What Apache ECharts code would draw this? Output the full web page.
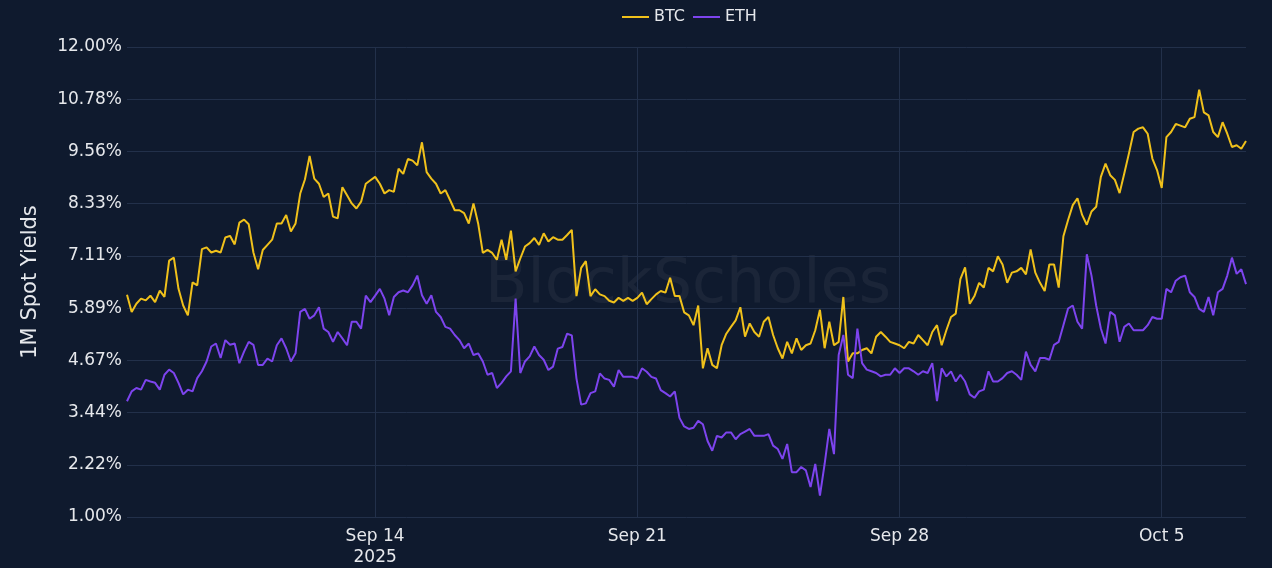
<!DOCTYPE html>
<html>
<head>
<meta charset="utf-8">
<title>1M Spot Yields</title>
<script src="https://cdn.jsdelivr.net/npm/echarts@6/dist/echarts.min.js"></script>
<style>
	html, body { margin: 0; padding: 0; background: #0f1a2e; }
	#chart { width: 1272px; height: 568px; }
</style>
</head>
<body>
<div id="chart"></div>
<script>
	// 3-hourly readings, first one at 2025-09-07 09:00 UTC
	var startUtc = Date.UTC(2025, 8, 7, 9);
	var stepHours = 3;

	var btcYield = [
		6.2, 5.8, 5.99, 6.11, 6.07, 6.18, 6.03, 6.3, 6.15, 7.0, 7.07, 6.34, 5.95, 5.72, 6.49, 6.42, 7.27, 7.31, 7.19, 7.23, 7.19, 7.54, 7.58, 7.38, 7.89, 7.96, 7.85, 7.19, 6.8,
		7.25, 7.37, 7.49, 7.87, 7.87, 8.07, 7.68, 7.87, 8.57, 8.9, 9.45, 8.92, 8.8, 8.49, 8.57, 8.03, 7.99, 8.72, 8.53, 8.34, 8.22, 8.38, 8.8, 8.88, 8.96, 8.8, 8.57, 8.65, 8.61, 9.15, 9.03,
		9.38, 9.34, 9.23, 9.77, 9.07, 8.92, 8.8, 8.57, 8.65, 8.42, 8.18, 8.18, 8.11, 7.87, 8.34, 7.87, 7.18, 7.25, 7.18, 7.02, 7.49, 7.02, 7.7, 6.75, 7.05, 7.33, 7.41, 7.53, 7.37, 7.64,
		7.45, 7.55, 7.49, 7.49, 7.6, 7.72, 6.17, 6.83, 6.99, 6.17, 6.33, 6.21, 6.17, 6.06, 6.02, 6.13, 6.06, 6.13, 6.06, 6.13, 6.25, 5.98, 6.1, 6.21, 6.29, 6.25, 6.6, 6.17, 6.17, 5.79,
		5.72, 5.49, 5.95, 4.48, 4.95, 4.56, 4.48, 5.02, 5.29, 5.45, 5.6, 5.91, 5.22, 5.53, 5.33, 5.22, 5.57, 5.68, 5.26, 4.95, 4.71, 5.1, 4.83, 5.18, 4.91, 5.02, 5.06, 5.37, 5.85, 4.95, 5.57,
		5.02, 5.1, 6.15, 4.64, 4.83, 4.83, 4.91, 4.95, 4.83, 5.22, 5.33, 5.22, 5.1, 5.06, 5.02, 4.95, 5.1, 5.06, 5.26, 5.14, 5.02, 5.33, 5.49, 5.02, 5.37, 5.68, 5.76, 6.57, 6.84, 5.99,
		6.17, 6.48, 6.37, 6.83, 6.75, 7.1, 6.91, 6.48, 6.72, 6.75, 6.83, 6.68, 7.26, 6.72, 6.48, 6.29, 6.91, 6.91, 6.37, 7.57, 7.95, 8.3, 8.46, 8.07, 7.84, 8.15, 8.26, 8.96, 9.27, 9.0,
		8.89, 8.58, 9.04, 9.51, 10.01, 10.09, 10.12, 9.97, 9.39, 9.12, 8.7, 9.89, 10.01, 10.2, 10.16, 10.12, 10.32, 10.36, 11.0, 10.47, 10.4, 10.01, 9.89, 10.24, 9.97, 9.66, 9.7, 9.62, 9.8
	];

	var ethYield = [
		3.71, 3.94, 4.02, 3.98, 4.21, 4.17, 4.14, 3.98, 4.33, 4.45, 4.37, 4.14, 3.87, 3.98, 3.94, 4.25, 4.41, 4.64, 4.99, 5.06, 4.72, 5.14, 5.03, 5.06, 4.6, 4.87, 5.1, 5.03, 4.56,
		4.56, 4.71, 4.64, 5.02, 5.18, 4.95, 4.64, 4.83, 5.8, 5.87, 5.64, 5.72, 5.91, 5.41, 5.33, 5.1, 5.33, 5.18, 5.02, 5.57, 5.57, 5.41, 6.18, 6.03, 6.18, 6.34, 6.11, 5.72, 6.15, 6.26, 6.3,
		6.26, 6.42, 6.65, 6.19, 5.99, 6.19, 5.8, 5.68, 5.45, 5.41, 5.26, 5.14, 4.95, 5.06, 4.79, 4.83, 4.64, 4.33, 4.37, 4.02, 4.14, 4.29, 4.41, 6.11, 4.37, 4.64, 4.76, 4.99, 4.79, 4.68,
		4.44, 4.52, 4.94, 4.98, 5.29, 5.25, 4.24, 3.63, 3.66, 3.9, 3.94, 4.36, 4.24, 4.21, 4.05, 4.44, 4.28, 4.28, 4.28, 4.24, 4.48, 4.4, 4.28, 4.24, 3.97, 3.9, 3.82, 3.94, 3.32, 3.12,
		3.06, 3.09, 3.25, 3.17, 2.78, 2.55, 2.9, 2.86, 2.98, 2.98, 2.82, 2.94, 3.0, 3.06, 2.9, 2.9, 2.9, 2.94, 2.67, 2.59, 2.36, 2.71, 2.05, 2.05, 2.17, 2.09, 1.7, 2.24, 1.5, 2.24, 3.06,
		2.47, 4.79, 5.26, 4.33, 4.25, 5.41, 4.6, 4.45, 4.41, 4.37, 4.29, 4.33, 4.33, 4.48, 4.37, 4.48, 4.48, 4.41, 4.33, 4.41, 4.37, 4.6, 3.71, 4.48, 4.29, 4.41, 4.17, 4.33, 4.17, 3.87,
		3.79, 3.94, 3.98, 4.41, 4.17, 4.17, 4.25, 4.37, 4.41, 4.33, 4.21, 4.87, 4.56, 4.41, 4.72, 4.72, 4.68, 5.03, 5.1, 5.49, 5.88, 5.95, 5.57, 5.41, 7.15, 6.65, 5.95, 5.41, 5.06, 5.8,
		5.72, 5.1, 5.45, 5.53, 5.37, 5.37, 5.37, 5.49, 5.68, 5.64, 5.64, 6.34, 6.26, 6.53, 6.61, 6.65, 6.26, 6.15, 5.87, 5.8, 6.15, 5.72, 6.26, 6.34, 6.65, 7.07, 6.69, 6.8, 6.45
	];

	var xTickDates = ['2025-09-14 00:00', '2025-09-21 00:00', '2025-09-28 00:00', '2025-10-05 00:00'];
	var xTickLabels = ['Sep 14\n2025', 'Sep 21', 'Sep 28', 'Oct 5'];

	var yMin = 1;
	var yMax = 12;
	var yStep = 11 / 9;

	function pad(n) {
		return n < 10 ? '0' + n : '' + n;
	}

	var times = btcYield.map(function(v, i) {
		var d = new Date(startUtc + i * stepHours * 3600 * 1000);
		return d.getUTCFullYear() + '-' + pad(d.getUTCMonth() + 1) + '-' + pad(d.getUTCDate()) + ' ' + pad(d.getUTCHours()) + ':00';
	});

	function isWeekTick(index, value) {
		return xTickDates.indexOf(value) >= 0;
	}

	var fontFamily = '"DejaVu Sans", Verdana, sans-serif';
	var textColor = '#e6e8ec';
	var gridColor = '#22304a';

	var option = {
		backgroundColor: '#0f1a2e',
		animation: false,
		color: ['#f0c11b', '#7d44ee'],
		textStyle: {
			fontFamily: fontFamily
		},
		legend: {
			data: ['BTC', 'ETH'],
			icon: 'rect',
			left: 617,
			top: 4,
			itemWidth: 27,
			itemHeight: 2,
			itemGap: 8,
			textStyle: {
				color: textColor,
				fontSize: 16,
				fontFamily: fontFamily
			}
		},
		graphic: [{
			type: 'text',
			z: 0,
			silent: true,
			x: 688,
			y: 286,
			style: {
				text: 'BlockScholes',
				fill: 'rgba(255,255,255,0.05)',
				font: '62px "DejaVu Sans", sans-serif',
				textAlign: 'center',
				textVerticalAlign: 'middle'
			}
		}],
		grid: {
			left: 127,
			right: 26,
			top: 47,
			bottom: 46,
			containLabel: false
		},
		xAxis: {
			type: 'category',
			boundaryGap: false,
			data: times,
			axisLine: {
				show: false
			},
			axisTick: {
				show: false
			},
			axisLabel: {
				interval: isWeekTick,
				color: textColor,
				fontSize: 17,
				lineHeight: 21,
				margin: 9,
				fontFamily: fontFamily,
				formatter: function(val) {
					var k = xTickDates.indexOf(val);
					return k >= 0 ? xTickLabels[k] : '';
				}
			},
			splitLine: {
				show: true,
				interval: isWeekTick,
				lineStyle: {
					color: gridColor,
					width: 1
				}
			}
		},
		yAxis: {
			type: 'value',
			min: yMin,
			max: yMax,
			interval: yStep,
			name: '1M Spot Yields',
			nameLocation: 'middle',
			nameGap: 86,
			nameTextStyle: {
				color: textColor,
				fontSize: 21,
				fontFamily: fontFamily
			},
			axisLine: {
				show: false
			},
			axisTick: {
				show: false
			},
			axisLabel: {
				color: textColor,
				fontSize: 17,
				margin: 5,
				fontFamily: fontFamily,
				formatter: function(v) {
					return v.toFixed(2) + '%';
				}
			},
			splitLine: {
				lineStyle: {
					color: gridColor,
					width: 1
				}
			}
		},
		series: [{
			name: 'BTC',
			type: 'line',
			data: btcYield,
			symbol: 'none',
			z: 3,
			lineStyle: {
				width: 2
			}
		}, {
			name: 'ETH',
			type: 'line',
			data: ethYield,
			symbol: 'none',
			z: 4,
			lineStyle: {
				width: 2
			}
		}]
	};

	var chart = echarts.init(document.getElementById('chart'));
	chart.setOption(option);
</script>
</body>
</html>
